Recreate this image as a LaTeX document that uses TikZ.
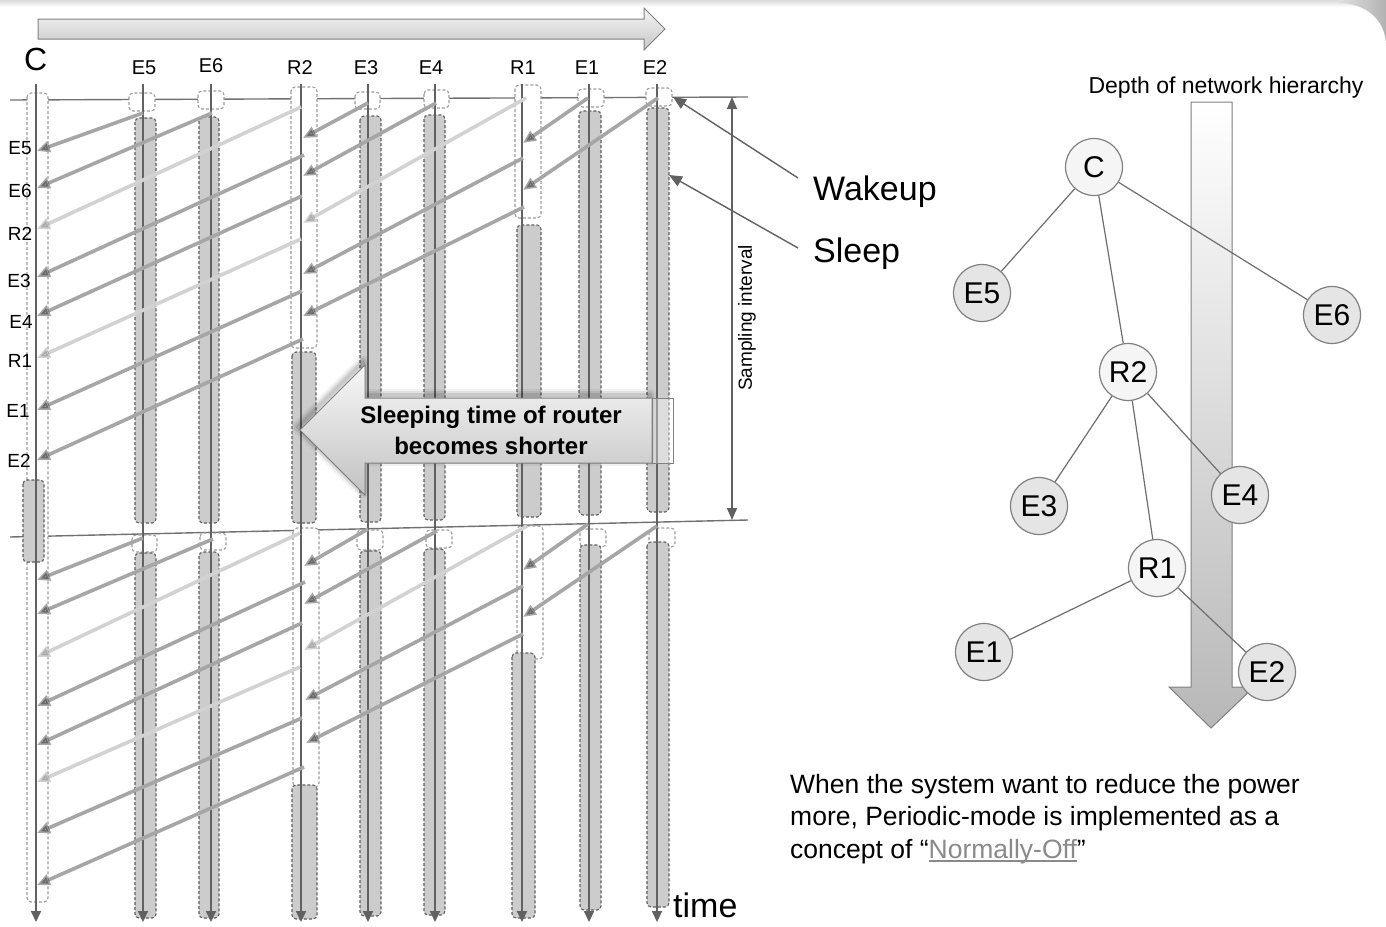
\documentclass[tikz,border=0pt]{standalone}
\usepackage{fontspec}
\setmainfont{Liberation Sans}
\usetikzlibrary{arrows.meta}

\definecolor{lifeGray}{HTML}{616161}
\definecolor{sleepFill}{HTML}{CCCCCC}
\definecolor{sleepEdge}{HTML}{5E5E5E}
\definecolor{wakeEdge}{HTML}{9C9C9C}
\definecolor{msgMid}{HTML}{A6A6A6}
\definecolor{msgLight}{HTML}{D2D2D2}
\definecolor{treeEdge}{HTML}{6E6E6E}
\definecolor{outlineGray}{HTML}{808080}
\definecolor{linkGray}{HTML}{8A8A8A}

% underlined link text with the rule drawn in the current colour
\newsavebox\ulinebox
\newcommand\grayunderline[1]{\sbox\ulinebox{#1}\rlap{\rule[-3.5pt]{\wd\ulinebox}{1.3pt}}\usebox\ulinebox}

\begin{document}
\begin{tikzpicture}[x=1pt,y=-1pt,
  lifeline/.style={draw=lifeGray, line width=2pt, -{Triangle[length=11pt,width=10pt]}},
  wakebox/.style={draw=wakeEdge, fill=white, line width=1.1pt, dash pattern=on 3pt off 2pt, rounded corners=4pt},
  sleepbox/.style={draw=sleepEdge, fill=sleepFill, line width=1.1pt, dash pattern=on 3pt off 2pt, rounded corners=4pt},
  msgmid/.style={draw=msgMid, line width=3.6pt, -{Triangle[length=13pt,width=11pt]}},
  msglight/.style={draw=msgLight, line width=3.6pt, -{Triangle[length=13pt,width=11pt]}},
  syncline/.style={draw=lifeGray!90, line width=1.4pt},
  pointer/.style={draw=lifeGray, line width=1.4pt, -{Triangle[length=13pt,width=11pt]}},
  collabel/.style={font=\fontsize{20}{24}\selectfont, anchor=base, inner sep=0pt},
  rowlabel/.style={font=\fontsize{19}{23}\selectfont, inner sep=0pt},
  biglabel/.style={font=\fontsize{34}{40}\selectfont, anchor=base west, inner sep=0pt},
  treenode/.style={circle, draw=outlineGray, line width=1.2pt, minimum size=57pt, inner sep=0pt, font=\fontsize{30}{34}\selectfont},
  leafnode/.style={treenode, fill=black!10},
  hubnode/.style={treenode, fill=black!4},
  treeline/.style={draw=treeEdge, line width=1.2pt},
  notetext/.style={font=\fontsize{26.5}{32}\selectfont, anchor=base west, inner sep=0pt}
]
\useasboundingbox (0,0) rectangle (1386,926);
\fill[white] (0,0) rectangle (1386,926);

% slide frame: thin band on top and the rounded corner on the right
\shade[top color=black!14, bottom color=white] (0,0) rectangle (1386,7);
\shade[left color=black!12, right color=black!30]
  (1338,3) .. controls (1366,3) and (1386,20) .. (1386,46) -- (1386,0) -- (1338,0) -- cycle;

% time direction arrow at the top
\shade[top color=black!4, bottom color=black!22, draw=outlineGray, line width=1pt]
  (38,19) -- (644,19) -- (644,8) -- (665,29) -- (644,50) -- (644,39) -- (38,39) -- cycle;

% sampling boundaries
\draw[syncline] (10,100) -- (748,97);
\draw[syncline] (10,537) -- (748,520);

% coordinator
\draw[wakebox] (27,93) rectangle (48,902);
\draw[sleepbox] (23,480) rectangle (44,562);
% E5
\draw[wakebox] (129,93) rectangle (155,111);
\draw[sleepbox] (135,118) rectangle (156,523);
\draw[wakebox] (132,535) rectangle (157,552);
\draw[sleepbox] (135,553) rectangle (156,918);
% E6
\draw[wakebox] (198,91) rectangle (224,109);
\draw[sleepbox] (199,117) rectangle (219,523);
\draw[wakebox] (200,533) rectangle (226,550);
\draw[sleepbox] (199,552) rectangle (219,918);
% R2
\draw[wakebox] (291,87) rectangle (317,348);
\draw[sleepbox] (292,352) rectangle (316,523);
\draw[wakebox] (293,528) rectangle (319,787);
\draw[sleepbox] (292,785) rectangle (317,919);
% E3
\draw[wakebox] (355,92) rectangle (380,109);
\draw[sleepbox] (360,116) rectangle (381,522);
\draw[wakebox] (357,530) rectangle (383,550);
\draw[sleepbox] (360,551) rectangle (381,916);
% E4
\draw[wakebox] (424,90) rectangle (449,108);
\draw[sleepbox] (424,115) rectangle (445,520);
\draw[wakebox] (426,530) rectangle (452,548);
\draw[sleepbox] (424,549) rectangle (445,915);
% R1
\draw[wakebox] (515,85) rectangle (541,218);
\draw[sleepbox] (517,225) rectangle (541,517);
\draw[wakebox] (517,526) rectangle (543,659);
\draw[sleepbox] (512,653) rectangle (535,918);
% E1
\draw[wakebox] (578,89) rectangle (604,107);
\draw[sleepbox] (579,111) rectangle (601,515);
\draw[wakebox] (580,529) rectangle (606,547);
\draw[sleepbox] (580,545) rectangle (601,910);
% E2
\draw[wakebox] (646,88) rectangle (672,106);
\draw[sleepbox] (647,108) rectangle (669,512);
\draw[wakebox] (649,528) rectangle (675,547);
\draw[sleepbox] (647,542) rectangle (669,907);

% lifelines
\foreach \cx in {36,143,211,301,368,435,522,589,657}
  \draw[lifeline] (\cx,84) -- (\cx,922);

% column headings
\node[font=\fontsize{32}{36}\selectfont, anchor=base west, inner sep=0pt] (hC) at (24,70) {C};
\node[collabel] (hE5) at (144,74) {E5};
\node[collabel] (hE6) at (211,72) {E6};
\node[collabel] (hR2) at (300,74) {R2};
\node[collabel] (hE3) at (366,74) {E3};
\node[collabel] (hE4) at (431,74) {E4};
\node[collabel] (hR1) at (523,74) {R1};
\node[collabel] (hE1) at (587,74) {E1};
\node[collabel] (hE2) at (655,74) {E2};

% messages: the grey bars darken what they cross
\begin{scope}[blend group=multiply]
  % first interval
  \draw[msgmid]   (143,113) -- (37,151);
  \draw[msgmid]   (212,113) -- (37,188);
  \draw[msglight] (301,107) -- (37,229);
  \draw[msgmid]   (304,155) -- (37,277);
  \draw[msgmid]   (302,196) -- (37,316);
  \draw[msglight] (301,239) -- (37,358);
  \draw[msgmid]   (302,291) -- (37,410);
  \draw[msgmid]   (303,339) -- (37,460);
  \draw[msgmid]   (368,103) -- (303,138);
  \draw[msgmid]   (436,103) -- (303,176);
  \draw[msglight] (526,98)  -- (303,223);
  \draw[msgmid]   (523,158) -- (303,274);
  \draw[msgmid]   (524,207) -- (303,316);
  \draw[msgmid]   (588,98)  -- (523,143);
  \draw[msgmid]   (658,98)  -- (523,190);
  % second interval
  \draw[msgmid]   (143,538) -- (37,580);
  \draw[msgmid]   (213,539) -- (37,614);
  \draw[msglight] (300,533) -- (37,657);
  \draw[msgmid]   (305,582) -- (37,706);
  \draw[msgmid]   (302,623) -- (37,745);
  \draw[msglight] (300,667) -- (37,782);
  \draw[msgmid]   (302,718) -- (37,833);
  \draw[msgmid]   (304,767) -- (37,885);
  \draw[msgmid]   (368,529) -- (304,566);
  \draw[msgmid]   (437,531) -- (304,604);
  \draw[msglight] (527,526) -- (304,650);
  \draw[msgmid]   (523,586) -- (305,700);
  \draw[msgmid]   (523,634) -- (306,743);
  \draw[msgmid]   (588,524) -- (523,570);
  \draw[msgmid]   (657,526) -- (523,617);
\end{scope}

% senders as they arrive at the coordinator
\node[rowlabel] (lE5) at (20,148) {E5};
\node[rowlabel] (lE6) at (20,191) {E6};
\node[rowlabel] (lR2) at (20,234) {R2};
\node[rowlabel] (lE3) at (19,281) {E3};
\node[rowlabel] (lE4) at (21,322) {E4};
\node[rowlabel] (lR1) at (20,361) {R1};
\node[rowlabel] (lE1) at (18,411) {E1};
\node[rowlabel] (lE2) at (19,461) {E2};

% callout arrow with a soft halo
\begin{scope}[shift={(-2,-3)}]
  \foreach \w/\o in {12/0.05,8/0.07,4/0.10}
    \draw[black, line width=\w pt, opacity=\o, line join=round]
      (300,430) -- (365,365) -- (365,398) -- (652,398) -- (652,463) -- (365,463) -- (365,495) -- cycle;
\end{scope}
\shade[top color=black!3, bottom color=black!24, draw=outlineGray, line width=1pt]
  (300,430) -- (365,365) -- (365,398) -- (652,398) -- (652,463) -- (365,463) -- (365,495) -- cycle;
\draw[draw=outlineGray, line width=1pt, fill=white, fill opacity=0.35] (652,398) rectangle (673,463);
\node[font=\fontsize{24}{31}\selectfont\bfseries, align=center, inner sep=0pt] (callout) at (491,430)
  {Sleeping time of router\\becomes shorter};

% sampling interval
\coordinate (siTop) at (732,97);
\coordinate (siBot) at (732,520);
\draw[draw=lifeGray, line width=1.4pt, {Triangle[length=12pt,width=10pt]}-{Triangle[length=12pt,width=10pt]}] (siTop) -- (siBot);
\node[font=\fontsize{19}{23}\selectfont, rotate=90, inner sep=0pt] (siText) at (747,318) {Sampling interval};

% state legend
\node[biglabel] (wk) at (813,200) {Wakeup};
\node[biglabel] (sl) at (813,262) {Sleep};
\coordinate (wkFrom) at (798,178);
\coordinate (wkTo) at (673,97);
\coordinate (slFrom) at (798,248);
\coordinate (slTo) at (669,175);
\draw[pointer] (wkFrom) -- (wkTo);
\draw[pointer] (slFrom) -- (slTo);

\node[biglabel] (tm) at (673,917) {time};

% network tree and its depth arrow
\node[font=\fontsize{23}{27}\selectfont, anchor=base, inner sep=0pt] (depth) at (1226,93) {Depth of network hierarchy};
\shade[top color=white, bottom color=black!28, draw=outlineGray, line width=1pt]
  (1191,102) -- (1232,102) -- (1232,687) -- (1254,687) -- (1211,728) -- (1169,687) -- (1191,687) -- cycle;

\node[hubnode]  (tC)  at (1094,167) {C};
\node[leafnode] (tE5) at (982,293) {E5};
\node[leafnode] (tE6) at (1332,315) {E6};
\node[hubnode]  (tR2) at (1128,372) {R2};
\node[leafnode] (tE3) at (1039,506) {E3};
\node[leafnode] (tE4) at (1240,495) {E4};
\node[hubnode]  (tR1) at (1157,568) {R1};
\node[leafnode] (tE1) at (984,652) {E1};
\node[leafnode] (tE2) at (1267,672) {E2};

\draw[treeline] (tC) -- (tE5);
\draw[treeline] (tC) -- (tR2);
\draw[treeline] (tC) -- (tE6);
\draw[treeline] (tR2) -- (tE3);
\draw[treeline] (tR2) -- (tE4);
\draw[treeline] (tR2) -- (tR1);
\draw[treeline] (tR1) -- (tE1);
\draw[treeline] (tR1) -- (tE2);

% explanatory note
\node[notetext] (n1) at (790,793) {When the system want to reduce the power};
\node[notetext] (n2) at (790,825) {more, Periodic-mode is implemented as a};
\node[notetext] (n3) at (790,858) {concept of “\textcolor{linkGray}{\grayunderline{Normally-Off}}”};
\end{tikzpicture}
\end{document}
